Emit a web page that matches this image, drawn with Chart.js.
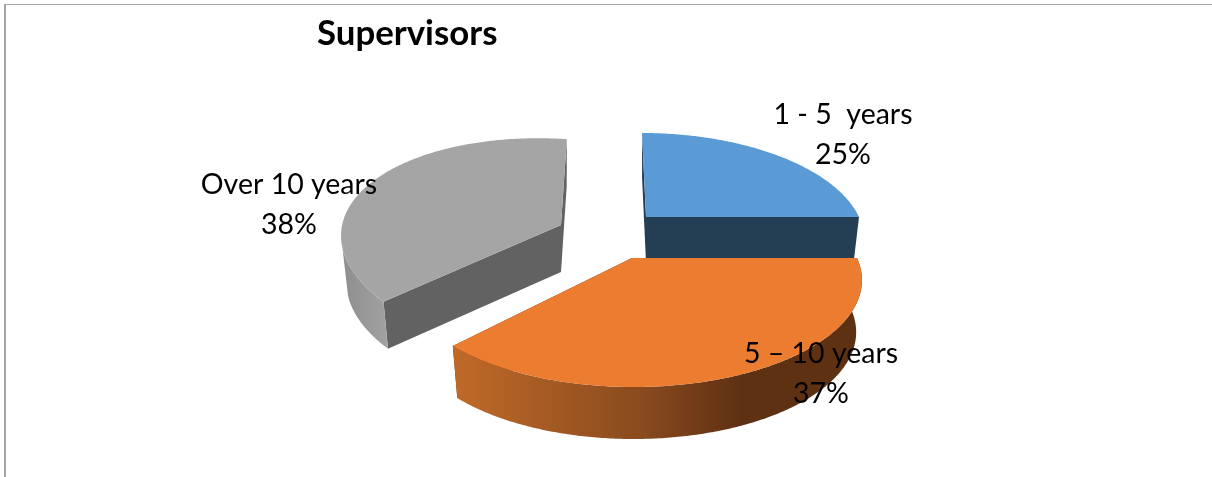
<!DOCTYPE html>
<html>
<head>
<meta charset="utf-8">
<title>Supervisors</title>
<script src="https://cdn.jsdelivr.net/npm/chart.js@4"></script>
<style>
  html, body { margin: 0; padding: 0; background: #fff; }
  #chart { position: absolute; left: 0; top: 0; }
  #frame { position: absolute; left: 4px; top: 4px; right: 0; bottom: 0;
           border-left: 2px solid #a6a6a6; border-top: 1.5px solid #a6a6a6; }
</style>
</head>
<body>
<div id="frame"></div>
<canvas id="chart" width="1212" height="477"></canvas>
<script>
const categories = ['1 - 5  years', '5 – 10 years', 'Over 10 years'];
const values = [25, 37, 38];
const percentLabels = ['25%', '37%', '38%'];

const topColors = ['#5b9bd5', '#eb7c30', '#a5a5a5'];
const cutColors = ['#243e54', '#5f3113', '#626262'];

// how each exploded slice sits in the picture: apex, east and south vectors,
// perspective, thickness (the reference is a perspective 3D pie)
const planes = [
  { ax: 646, ay: 217, ex: 213, ey: 0, sx: 4.8, sy: 100.8, k: 0.2, depth: 45 },
  { ax: 632, ay: 258, ex: 225, ey: 0, sx: 1.3, sy: 103.2, k: 0.2, depth: 52 },
  { ax: 561, ay: 225, ex: 214, ey: 14, sx: -7, sy: 103, k: 0.2, depth: 47 }
];
const shrink = 0.975;
const wallEnd = 250 * Math.PI / 180; // left silhouette of the pie
const labelCenters = [[843, 115], [821, 354], [289, 185]];
const lineGap = 40;
const drawOrder = [2, 0, 1];

function project(p, phi, bottom) {
  const u = Math.sin(phi), v = -Math.cos(phi);
  const w = 1 - p.k * v;
  let x = (u * p.ex + v * p.sx) / w;
  const y = (u * p.ey + v * p.sy) / w;
  if (bottom) x *= shrink;
  return { x: p.ax + x, y: p.ay + y + (bottom ? p.depth : 0) };
}

function arcPoints(p, from, to, bottom) {
  const pts = [];
  const steps = Math.max(2, Math.ceil(Math.abs(to - from) / 0.01));
  for (let i = 0; i <= steps; i++) {
    pts.push(project(p, from + (to - from) * i / steps, bottom));
  }
  return pts;
}

function fillPoly(ctx, pts, fill) {
  ctx.beginPath();
  pts.forEach((pt, i) => i ? ctx.lineTo(pt.x, pt.y) : ctx.moveTo(pt.x, pt.y));
  ctx.closePath();
  ctx.fillStyle = fill;
  ctx.fill();
}

function wallFill(ctx, index) {
  if (index === 1) {
    const g = ctx.createLinearGradient(453, 0, 740, 0);
    g.addColorStop(0, '#c06a29');
    g.addColorStop(0.65, '#8a4b1e');
    g.addColorStop(1, '#5f3113');
    return g;
  }
  const g = ctx.createLinearGradient(342, 0, 389, 0);
  g.addColorStop(0, '#8e8e8e');
  g.addColorStop(1, '#a2a2a2');
  return g;
}

const pie3d = {
  id: 'pie3d',
  beforeDatasetsDraw(chart) {
    const ctx = chart.ctx;
    const arcs = chart.getDatasetMeta(0).data;
    ctx.save();
    drawOrder.forEach(i => {
      const p = planes[i];
      // library angles start at -90deg, here 0 is north
      const from = arcs[i].startAngle + Math.PI / 2;
      const to = arcs[i].endAngle + Math.PI / 2;
      const apex = { x: p.ax, y: p.ay };
      const apexLow = { x: p.ax, y: p.ay + p.depth };

      [from, to].forEach(phi => {
        fillPoly(ctx, [apex, project(p, phi, false), project(p, phi, true), apexLow], cutColors[i]);
      });

      // outer wall only where it faces the viewer
      const wallFrom = Math.max(from, Math.PI / 2);
      const wallTo = Math.min(to, wallEnd);
      if (wallTo - wallFrom > 0.01) {
        const pts = arcPoints(p, wallFrom, wallTo, false)
          .concat(arcPoints(p, wallTo, wallFrom, true));
        fillPoly(ctx, pts, wallFill(ctx, i));
      }

      fillPoly(ctx, [apex].concat(arcPoints(p, from, to, false)), topColors[i]);
    });
    ctx.restore();
    return false; // slices are drawn above, in perspective
  },
  afterDraw(chart) {
    const ctx = chart.ctx;
    ctx.save();
    ctx.font = '28.5px Lato';
    ctx.fillStyle = '#000';
    ctx.textAlign = 'center';
    ctx.textBaseline = 'middle';
    categories.forEach((name, i) => {
      const [x, y] = labelCenters[i];
      ctx.fillText(name, x, y);
      ctx.fillText(percentLabels[i], x, y + lineGap);
    });
    ctx.restore();
  }
};

new Chart(document.getElementById('chart'), {
  type: 'pie',
  data: {
    labels: categories,
    datasets: [{ data: values, backgroundColor: topColors, borderWidth: 0 }]
  },
  plugins: [pie3d],
  options: {
    responsive: false,
    animation: false,
    events: [],
    layout: { padding: { left: 317, top: 0 } },
    plugins: {
      legend: { display: false },
      tooltip: { enabled: false },
      title: {
        display: true,
        text: 'Supervisors',
        align: 'start',
        color: '#000',
        font: { family: 'Lato', size: 34.8, weight: 'bold' },
        padding: { top: 13, bottom: 10 }
      }
    }
  }
});
</script>
</body>
</html>
